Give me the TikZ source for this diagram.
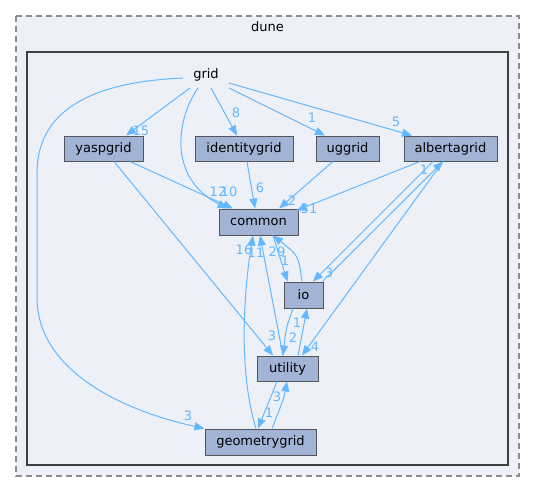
\documentclass[tikz,border=0pt]{standalone}
\usepackage{fontspec}
\setmainfont{DejaVu Sans}
\usetikzlibrary{arrows.meta,calc}
\definecolor{edgec}{HTML}{63B8FF}
\definecolor{nodef}{HTML}{A2B4D6}
\definecolor{nodeb}{HTML}{555555}
\definecolor{clf}{HTML}{EDF0F7}
\definecolor{inb}{HTML}{404040}
\definecolor{outb}{HTML}{8C8C8C}
\begin{document}
\begin{tikzpicture}[x=1pt,y=-1pt,font=\fontsize{13}{15}\selectfont,
  box/.style={draw=nodeb,fill=nodef,line width=1pt,minimum height=25pt,inner sep=0pt},
  edge/.style={draw=edgec,line width=1pt,-{Triangle[length=10pt,width=8pt]}},
  lbl/.style={text=edgec,inner sep=0pt}]
\useasboundingbox (0,0) rectangle (535,492);
\draw[fill=clf,draw=outb,dash pattern=on 6pt off 4pt,line width=1.3pt] (16,16) rectangle (519,476);
\node (dune) at (267.5,27) {dune};
\draw[fill=clf,draw=inb,line width=2.5pt] (27,52) rectangle (508,465);

\node[box,minimum width=79pt] (yaspgrid) at (103.5,148.5) {yaspgrid};
\node[box,minimum width=98pt] (identitygrid) at (244,148.5) {identitygrid};
\node[box,minimum width=63pt] (uggrid) at (347.5,148.5) {uggrid};
\node[box,minimum width=93pt] (albertagrid) at (450.5,148.5) {albertagrid};
\node[box,minimum width=79pt,minimum height=26pt] (common) at (258.5,222) {common};
\node[box,minimum width=39pt,minimum height=26pt] (io) at (303.5,295) {io};
\node[box,minimum width=61pt] (utility) at (287.5,368.5) {utility};
\node[box,minimum width=111pt,minimum height=26pt] (geometrygrid) at (260.5,442) {geometrygrid};
\node (grid) at (206,75) {grid};

% edges from grid
\draw[edge] ($(grid)+(-16,13)$) -- ($(yaspgrid.north)+(22.5,0)$);
\draw[edge] ($(grid)+(5,13)$) -- ($(identitygrid.north)+(-7,0)$);
\draw[edge] ($(grid)+(23,13)$) -- ($(uggrid.north)+(-22.5,0)$);
\draw[edge] ($(grid)+(23,8)$) -- ($(albertagrid.north)+(-38.5,0)$);
\draw[edge] ($(grid)+(-8,13)$) .. controls (176,120) and (168,178) .. ($(common.north)+(-31,0)$);
\draw[edge] ($(grid)+(-23,3)$) .. controls (92,82) and (36,110) .. (37,175) -- (37,300) .. controls (39,370) and (120,410) .. (geometrygrid.north west);

% other edges
\draw[edge] ($(yaspgrid.south)+(26.5,0)$) -- ($(common.north)+(-25.5,0)$);
\draw[edge] ($(yaspgrid.south)+(10.5,0)$) -- ($(utility.north)+(-14.5,0)$);
\draw[edge] ($(identitygrid.south)+(3,0)$) -- ($(common.north)+(-3.5,0)$);
\draw[edge] ($(uggrid.south)+(-14.5,0)$) -- ($(common.north)+(20.5,0)$);
\draw[edge] ($(albertagrid.south)+(-30.5,0)$) -- ($(common.north east)+(-2,2)$);
\draw[edge] ($(albertagrid.south)+(-17.5,0)$) -- ($(io.north)+(9.5,0)$);
\draw[edge] ($(io.north east)+(-1,0)$) -- ($(albertagrid.south)+(-7.5,0)$);
\draw[edge] ($(albertagrid.south)+(-7.5,0)$) -- ($(utility.north)+(14.5,0)$);
\draw[edge] ($(common.south)+(14.5,0)$) -- ($(io.north)+(-16,0)$);
\draw[edge] ($(io.north)+(-1.5,0)$) .. controls (298.5,255.5) .. ($(common.south)+(14.5,0)$);
\draw[edge] ($(geometrygrid.north)+(-4.5,0)$) .. controls (238,370) and (244,290) .. ($(common.south)+(-5.5,0)$);
\draw[edge] ($(utility.north)+(-4.5,0)$) -- ($(common.south)+(1.5,0)$);
\draw[edge] ($(io.south)+(-10.5,0)$) .. controls (286,328) .. ($(utility.north)+(-4.5,0)$);
\draw[edge] ($(utility.north)+(10.5,0)$) -- ($(io.south)+(3.5,0)$);
\draw[edge] ($(utility.south)+(-10.5,0)$) -- ($(geometrygrid.north)+(-2.5,0)$);
\draw[edge] ($(geometrygrid.north)+(11.5,0)$) .. controls (284,398) .. ($(utility.south)+(-0.5,0)$);

% labels
\node[lbl] (l15) at (141,131) {15};
\node[lbl] (l8) at (236,113) {8};
\node[lbl] (l1ug) at (312,118) {1};
\node[lbl] (l5) at (396,122) {5};
\node[lbl] (l12) at (218,192) {12};
\node[lbl] (l10) at (229,192) {10};
\node[lbl] (l3g) at (188,416) {3};
\node[lbl] (l3u) at (272,336) {3};
\node[lbl] (l6) at (260,188) {6};
\node[lbl] (l2c) at (292,201) {2};
\node[lbl] (l31) at (309,209) {31};
\node[lbl] (l3io) at (329,273) {3};
\node[lbl] (l1alb) at (424,170) {1};
\node[lbl] (l4) at (315,347) {4};
\node[lbl] (l1io) at (285,261) {1};
\node[lbl] (l29) at (277,252) {29};
\node[lbl] (l16) at (244,250) {16};
\node[lbl] (l11) at (256,253) {11};
\node[lbl] (l2u) at (293,338) {2};
\node[lbl] (l1u) at (297,323) {1};
\node[lbl] (l1g) at (269,413) {1};
\node[lbl] (l3ut) at (277,397) {3};
\end{tikzpicture}
\end{document}
